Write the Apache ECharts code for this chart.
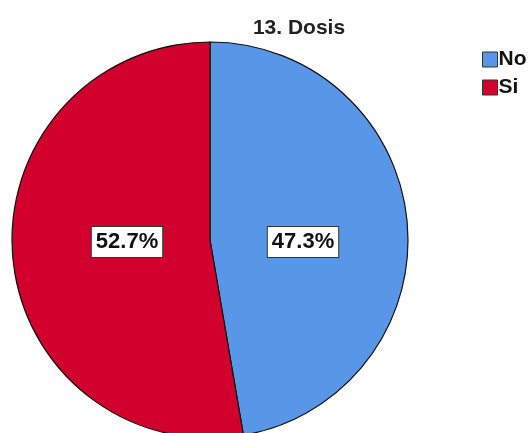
<!DOCTYPE html>
<html>
<head>
<meta charset="utf-8">
<script src="https://cdn.jsdelivr.net/npm/echarts@6/dist/echarts.min.js"></script>
<style>
  html, body { margin: 0; padding: 0; background: #fff; }
  #chart { width: 532px; height: 433px; }
</style>
</head>
<body>
<div id="chart"></div>
<script>
// Dosis answers, share of respondents (%)
const categories = ['No', 'Si'];
const values = [47.3, 52.7];
const colors = ['#5896E8', '#D2002D'];
const titleText = '13. Dosis';

const chart = echarts.init(document.getElementById('chart'), null, { renderer: 'canvas' });

const font = 'Arial, "Liberation Sans", sans-serif';
const pieCenter = [210, 240];
// horizontal offset of each value box from the pie centre
const labelShift = [93, -83];

chart.setOption({
  animation: false,
  backgroundColor: '#ffffff',
  title: {
    text: titleText,
    left: 294,
    top: 13,
    textAlign: 'center',
    textStyle: { fontFamily: font, fontSize: 21, fontWeight: 'bold', color: '#222' }
  },
  legend: {
    orient: 'vertical',
    left: 477,
    top: 44,
    itemWidth: 15,
    itemHeight: 15,
    itemGap: 7,
    data: categories,
    icon: 'rect',
    itemStyle: { borderColor: '#333', borderWidth: 1 },
    textStyle: { fontFamily: font, fontSize: 21, fontWeight: 'bold', color: '#111', lineHeight: 16, padding: [0, 0, 0, -4] }
  },
  series: [{
    type: 'pie',
    center: pieCenter,
    radius: 198,
    startAngle: 90,
    clockwise: true,
    avoidLabelOverlap: false,
    label: {
      show: true,
      position: 'inside',
      formatter: p => p.value.toFixed(1) + '%',
      fontFamily: font,
      fontSize: 22,
      fontWeight: 'bold',
      color: '#111',
      backgroundColor: '#fff',
      borderColor: '#333',
      borderWidth: 1,
      padding: [5, 4, 3, 4]
    },
    labelLayout: p => ({
      x: pieCenter[0] + labelShift[p.dataIndex],
      y: 242,
      align: 'center',
      verticalAlign: 'middle'
    }),
    labelLine: { show: false },
    itemStyle: { borderColor: '#111', borderWidth: 1.2 },
    emphasis: { disabled: true },
    data: categories.map((c, i) => ({ name: c, value: values[i], itemStyle: { color: colors[i] } }))
  }]
});
</script>
</body>
</html>
